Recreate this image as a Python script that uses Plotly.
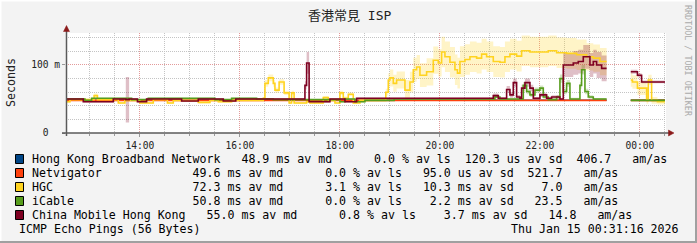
import plotly.graph_objects as go
from datetime import datetime

# ---------------- data ----------------
TITLE = "香港常見 ISP"
Y_LABEL = "Seconds"
X_START = datetime(2026, 1, 14, 12, 31, 16)
X_END = datetime(2026, 1, 15, 0, 31, 16)
Y_MAX = 147
Y_TICKVALS = [0, 100]
Y_TICKTEXT = ["0\u00a0\u00a0", "100\u00a0m"]

NAMES = ["Hong Kong Broadband Network", "Netvigator", "HGC", "iCable", "China Mobile Hong Kong"]
COLORS = ["#004586", "#ff420e", "#ffd320", "#579d1c", "#7e0021"]
BAND_COLORS = ["rgba(0,69,134,0.25)", "rgba(255,66,14,0.25)", "rgba(255,211,32,0.25)",
               "rgba(87,157,28,0.25)", "rgba(126,0,33,0.25)"]

HKBN_TIME = ["12:32", "23:20", "23:30", "23:49", "00:30"]
HKBN_MED = [48.2, 48.2, None, 48.2, 48.2]

NV_TIME = ["12:32", "23:20", "23:30", "23:49", "00:30"]
NV_MED = [48.0, 48.0, None, 48.0, 48.0]

HGC_TIME = ["12:32", "12:36", "13:05", "13:09", "13:34", "13:42", "14:00", "14:16", "14:33", "14:40",
            "15:10", "15:24", "15:34", "15:50", "16:28", "16:30", "16:34", "16:40", "16:42", "16:47",
            "16:53", "16:59", "17:02", "17:05", "17:20", "17:24", "17:40", "17:46", "17:54", "18:00",
            "18:04", "18:10", "18:16", "18:24", "18:55", "18:58", "19:00", "19:04", "19:08", "19:18",
            "19:24", "19:28", "19:32", "19:36", "19:44", "19:52", "19:58", "20:02", "20:06", "20:12",
            "20:18", "20:21", "20:24", "20:30", "20:36", "20:44", "20:50", "20:56", "21:04", "21:12",
            "21:18", "21:24", "21:32", "21:38", "21:48", "22:00", "22:10", "22:20", "22:32", "22:44",
            "22:56", "23:04", "23:12", "23:20", "23:30", "23:49", "23:51", "23:57", "00:08", "00:10",
            "00:14", "00:21", "00:30"]
HGC_MED = [46, 49, 55, 49, 44, 48, 44, 49, 44, 48,
           45, 48, 46, 48, 51, 73, 81, 73, 63, 75,
           59, 44, 59, 44, 46, 44, 52, 48, 44, 59,
           51, 57, 44, 48, 60, 78, 81, 73, 78, 63,
           75, 93, 97, 85, 90, 107, 103, 119, 112, 104,
           93, 88, 105, 108, 112, 110, 116, 112, 105, 104,
           112, 116, 113, 121, 119, 119, 121, 118, 117, 115,
           112, 110, 105, 105, None, 78, 75, 66, 48, 78,
           48, 46, 46]
HGC_SD = [3, 3, 6, 3, 3, 3, 3, 3, 3, 3,
          3, 3, 3, 3, 4, 10, 10, 10, 8, 8,
          6, 3, 6, 3, 3, 3, 5, 3, 3, 6,
          5, 5, 3, 3, 10, 20, 25, 25, 25, 30,
          30, 35, 35, 35, 40, 40, 40, 45, 45, 45,
          45, 45, 45, 45, 45, 45, 45, 45, 45, 45,
          45, 45, 45, 45, 45, 45, 45, 45, 45, 45,
          40, 40, 40, 40, None, 20, 20, 20, 10, 15,
          10, 8, 8]

IC_TIME = ["12:32", "12:54", "13:02", "13:50", "14:10", "15:00", "15:30", "15:50", "16:20", "16:40",
           "18:00", "18:06", "18:18", "18:30", "19:05", "21:06", "21:12", "21:40", "21:44", "21:48",
           "21:54", "22:00", "22:04", "22:10", "22:20", "22:24", "22:28", "22:32", "22:36", "22:48",
           "22:50", "22:54", "22:58", "23:04", "23:20", "23:30", "23:49", "00:30"]
IC_MED = [50, 48, 51, 49, 51, 51, 49, 51, 50, 49,
          46, 50, 46, 48, 50, 53, 50, 70, 61, 56,
          63, 66, 53, 49, 53, 80, 61, 73, 50, 70,
          93, 61, 53, 50, 50, None, 48, 48]
IC_SD = [2, 2, 2, 2, 2, 2, 2, 2, 2, 2,
         2, 2, 2, 2, 2, 4, 2, 10, 8, 6,
         8, 8, 5, 3, 5, 12, 8, 10, 4, 10,
         14, 8, 5, 3, 3, None, 3, 3]

CM_TIME = ["12:32", "12:52", "13:28", "13:43", "13:47", "13:57", "14:08", "14:50", "15:10", "15:40",
           "15:55", "17:18", "17:20", "17:23", "17:48", "18:06", "18:20", "21:04", "21:10", "21:20",
           "21:24", "21:28", "21:32", "21:36", "21:38", "21:42", "21:48", "21:52", "22:00", "22:08",
           "22:14", "22:24", "22:28", "22:40", "22:46", "22:52", "23:00", "23:04", "23:08", "23:14",
           "23:20", "23:30", "23:49", "23:57", "00:02", "00:30"]
CM_MED = [50, 46, 50, 49, 50, 46, 50, 47, 50, 47,
          50, 70, 103, 46, 50, 46, 51, 55, 51, 64,
          56, 74, 53, 51, 66, 74, 66, 51, 56, 51,
          53, 50, 100, 103, 105, 112, 100, 105, 100, 95,
          95, None, 90, 85, 75, 75]
CM_SD = [2, 2, 2, 67, 2, 2, 2, 2, 2, 2,
         2, 12, 32, 3, 2, 2, 2, 6, 3, 10,
         8, 12, 6, 3, 10, 12, 10, 4, 6, 3,
         5, 3, 35, 35, 35, 35, 35, 35, 38, 38,
         38, None, 6, 6, 4, 4]

LEGEND_ROWS = [
    "Hong Kong Broadband Network   48.9 ms av md      0.0 % av ls  120.3 us av sd  406.7   am/as",
    "Netvigator             49.6 ms av md      0.0 % av ls   95.0 us av sd  521.7   am/as",
    "HGC                    72.3 ms av md      3.1 % av ls   10.3 ms av sd    7.0   am/as",
    "iCable                 50.8 ms av md      0.0 % av ls    2.2 ms av sd   23.5   am/as",
    "China Mobile Hong Kong   55.0 ms av md      0.8 % av ls    3.7 ms av sd   14.8   am/as",
]
FOOTER_LEFT = "ICMP Echo Pings (56 Bytes)"
FOOTER_RIGHT = "Thu Jan 15 00:31:16 2026"
WATERMARK = "RRDTOOL / TOBI OETIKER"

SERIES = [
    (HKBN_TIME, HKBN_MED, None),
    (NV_TIME, NV_MED, None),
    (HGC_TIME, HGC_MED, HGC_SD),
    (IC_TIME, IC_MED, IC_SD),
    (CM_TIME, CM_MED, CM_SD),
]

# ---------------- helpers ----------------
MONO = "DejaVu Sans Mono"
W, H = 697, 243
L, R, T, B = 66, 31, 33, 110
PW, PH = W - L - R, H - T - B


def px(x):
    return (x - L) / PW


def py(y):
    return (H - B - y) / PH


def to_dt(hm):
    h, m = map(int, hm.split(":"))
    return datetime(2026, 1, 14 if h >= 12 else 15, h, m)


def segments(times, vals, sds):
    segs, cur = [], []
    for i, (t, v) in enumerate(zip(times, vals)):
        if v is None:
            if cur:
                segs.append(cur)
            cur = []
        else:
            cur.append((to_dt(t), v, sds[i] if sds else 0))
    if cur:
        segs.append(cur)
    return segs


fig = go.Figure()

# smoke bands first
for k, (tt, vv, ss) in enumerate(SERIES):
    if ss is None:
        continue
    for seg in segments(tt, vv, ss):
        xs = [p[0] for p in seg]
        lo = [p[1] - p[2] / 2 for p in seg]
        hi = [p[1] + p[2] / 2 for p in seg]
        fig.add_trace(go.Scatter(x=xs, y=lo, mode="lines", line=dict(width=0, shape="hv"),
                                 hoverinfo="skip", showlegend=False))
        fig.add_trace(go.Scatter(x=xs, y=hi, mode="lines", line=dict(width=0, shape="hv"),
                                 fill="tonexty", fillcolor=BAND_COLORS[k],
                                 hoverinfo="skip", showlegend=False))

# median lines
for k, (tt, vv, ss) in enumerate(SERIES):
    for seg in segments(tt, vv, ss):
        fig.add_trace(go.Scatter(x=[p[0] for p in seg], y=[p[1] for p in seg], mode="lines",
                                 line=dict(color=COLORS[k], width=1.6, shape="hv"),
                                 hoverinfo="skip", showlegend=False, name=NAMES[k]))

GRID_MINOR = "#c4c4c4"
GRID_MAJOR = "#e39a9a"

fig.update_layout(
    width=W, height=H,
    margin=dict(l=L, r=R, t=T, b=B, pad=0),
    paper_bgcolor="#f3f3f3", plot_bgcolor="#ffffff",
    showlegend=False, hovermode=False,
    xaxis=dict(type="date", range=[X_START, X_END], dtick=7200000, tickformat="%H:%M",
               showgrid=True, gridcolor=GRID_MAJOR, griddash="1px,1px", gridwidth=1,
               minor=dict(dtick=1800000, showgrid=True, gridcolor=GRID_MINOR, griddash="1px,1px",
                          ticks="outside", ticklen=2, tickcolor="#999"),
               ticks="outside", ticklen=3, tickcolor="#999",
               tickfont=dict(family=MONO, size=9.6, color="#222"),
               showline=False, zeroline=False, fixedrange=True),
    yaxis=dict(range=[0, Y_MAX], tickmode="array", tickvals=Y_TICKVALS, ticktext=Y_TICKTEXT,
               showgrid=True, gridcolor=GRID_MAJOR, griddash="1px,1px", gridwidth=1,
               minor=dict(dtick=20, tick0=0, showgrid=True, gridcolor=GRID_MINOR, griddash="1px,1px"),
               ticks="outside", ticklen=3, tickcolor="#999",
               tickfont=dict(family=MONO, size=9.6, color="#222"),
               showline=False, zeroline=False, fixedrange=True),
)

shapes = []
AXC = "#5a5a5a"
ARC = "#8b1a1a"
# axis lines
shapes.append(dict(type="line", xref="paper", yref="paper", x0=px(66.5), x1=px(66.5), y0=py(136), y1=py(30),
                   line=dict(color=AXC, width=1.5)))
shapes.append(dict(type="line", xref="paper", yref="paper", x0=px(62), x1=px(669), y0=py(133), y1=py(133),
                   line=dict(color=AXC, width=1.5)))
# arrows
shapes.append(dict(type="path", xref="paper", yref="paper",
                   path=f"M {px(63.5)},{py(31.5)} L {px(66.5)},{py(25.5)} L {px(69.5)},{py(31.5)} Z",
                   fillcolor=ARC, line=dict(color=ARC, width=0.5)))
shapes.append(dict(type="path", xref="paper", yref="paper",
                   path=f"M {px(668.5)},{py(130)} L {px(674)},{py(133)} L {px(668.5)},{py(136)} Z",
                   fillcolor=ARC, line=dict(color=ARC, width=0.5)))
# frame
shapes.append(dict(type="rect", xref="paper", yref="paper", x0=px(0), x1=px(W), y0=py(241), y1=py(H),
                   fillcolor="#a0a0a0", line=dict(width=0)))
shapes.append(dict(type="rect", xref="paper", yref="paper", x0=px(695), x1=px(W), y0=py(0), y1=py(H),
                   fillcolor="#a0a0a0", line=dict(width=0)))
shapes.append(dict(type="rect", xref="paper", yref="paper", x0=px(0), x1=px(695), y0=py(0), y1=py(1.5),
                   fillcolor="#ffffff", line=dict(width=0)))
shapes.append(dict(type="rect", xref="paper", yref="paper", x0=px(0), x1=px(1.5), y0=py(0), y1=py(241),
                   fillcolor="#ffffff", line=dict(width=0)))

annotations = []


def ann(text, x, y, size, xanchor="left", yanchor="middle", color="#000", family=MONO, angle=0):
    annotations.append(dict(text=text, x=px(x), y=py(y), xref="paper", yref="paper",
                            xanchor=xanchor, yanchor=yanchor, showarrow=False, textangle=angle,
                            font=dict(family=family, size=size, color=color)))


ann(TITLE, 349, 15, 13, xanchor="center", family="DejaVu Sans Mono, Noto Sans CJK TC", color="#222")
ann(Y_LABEL, 11, 83, 11.6, xanchor="center", angle=-90, color="#222")
ann(WATERMARK, 688, 61, 8.4, xanchor="center", angle=90, color="#aaaaaa")

ROW_Y = [159, 173, 187, 201, 215]
for i, row in enumerate(LEGEND_ROWS):
    yc = ROW_Y[i]
    shapes.append(dict(type="rect", xref="paper", yref="paper", x0=px(15.5), x1=px(23.5),
                       y0=py(yc - 4.5), y1=py(yc + 4.5), fillcolor=COLORS[i],
                       line=dict(color="#000", width=1)))
    ann(row.replace(" ", "\u00a0"), 30, yc, 11.6)
ann(FOOTER_LEFT.replace(" ", "\u00a0"), 17, 229, 11.6)
ann(FOOTER_RIGHT.replace(" ", "\u00a0"), 681, 229, 11.6, xanchor="right")

fig.update_layout(shapes=shapes, annotations=annotations)
fig.write_html("out.html", config={"displayModeBar": False, "staticPlot": True})
